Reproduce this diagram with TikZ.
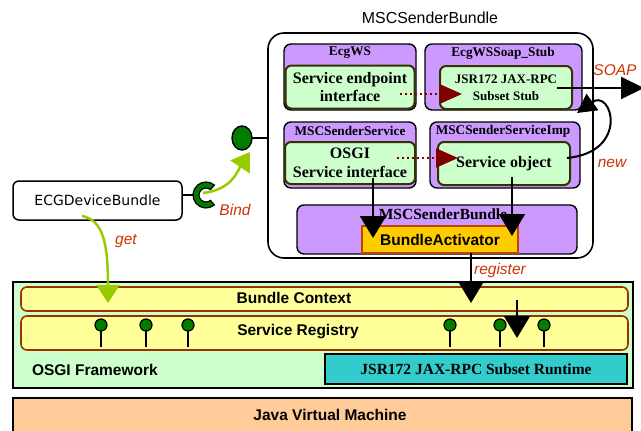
\documentclass[tikz,border=0pt]{standalone}
\usepackage{fontspec}
\setmainfont{Liberation Serif}
\setsansfont{Liberation Sans}
\newfontfamily\ecgfont{DejaVu Sans}
\usetikzlibrary{arrows.meta,calc,shapes.geometric}

\definecolor{compviolet}{RGB}{204,153,255}
\definecolor{palegreen}{RGB}{204,255,204}
\definecolor{ifborder}{RGB}{51,51,0}
\definecolor{barfill}{RGB}{255,255,153}
\definecolor{barborder}{RGB}{153,51,0}
\definecolor{runcyan}{RGB}{51,204,204}
\definecolor{jvmpeach}{RGB}{255,204,153}
\definecolor{ballgreen}{RGB}{0,125,0}
\definecolor{limegreen}{RGB}{153,204,0}
\definecolor{dotred}{RGB}{128,0,0}
\definecolor{labelred}{RGB}{204,51,0}
\definecolor{actfill}{RGB}{255,204,0}
\definecolor{actborder}{RGB}{190,70,0}

\newcommand\titlefont{\fontsize{15.9}{18}\selectfont\sffamily}
\newcommand\complabelfont{\fontsize{13.3}{15}\selectfont\bfseries}
\newcommand\boxtextfont{\fontsize{16}{18.5}\selectfont\bfseries}
\newcommand\stubtextfont{\fontsize{13}{17}\selectfont\bfseries}
\newcommand\sanslabelfont{\fontsize{15.5}{18}\selectfont\sffamily\bfseries}
\newcommand\edgelabelfont{\fontsize{15.5}{18}\selectfont\sffamily\itshape}

\begin{document}
\begin{tikzpicture}[x=1pt,y=-1pt,
  every node/.style={inner sep=0pt, outer sep=0pt},
  layerbox/.style={draw, line width=2, fill=palegreen},
  barbox/.style={draw=barborder, line width=1.6, rounded corners=6, fill=barfill},
  runbox/.style={draw, line width=2, fill=runcyan, font=\sanslabelfont\rmfamily},
  jvmbox/.style={draw, line width=2, fill=jvmpeach},
  outerbox/.style={draw, line width=1.6, rounded corners=16, fill=white},
  compbox/.style={draw, line width=1.4, rounded corners=7, fill=compviolet},
  complabel/.style={font=\complabelfont},
  ifbox/.style={draw=ifborder, line width=2, rounded corners=6, fill=palegreen, align=center},
  actbox/.style={draw=actborder, line width=1.6, fill=actfill, font=\sanslabelfont},
  ecgbox/.style={draw, line width=1.5, rounded corners=6, fill=white, font=\ecgfont\fontsize{14}{16}\selectfont},
  ballbig/.style={ellipse, draw, line width=1.4, fill=ballgreen},
  ballsmall/.style={circle, draw, line width=1.2, fill=ballgreen, minimum size=12},
  stem/.style={line width=1.5},
  edgelabel/.style={font=\edgelabelfont, text=labelred},
  bigarrow/.style={line width=2, -{Triangle[length=22pt,width=26pt]}},
  soaparrow/.style={line width=2, -{Triangle[length=23pt,width=22pt]}},
  dotarrow/.style={draw=dotred, line width=2.2, dash pattern=on 2.2pt off 2.8pt,
                   -{Triangle[length=22pt,width=19pt]}},
  limearrow/.style={draw=limegreen, line width=2.5, -{Triangle[length=18pt,width=23pt]}}
]
\useasboundingbox (0,0) rectangle (641,431);

% ---- OSGi framework layer ----
\node[layerbox, minimum width=620, minimum height=106] (fw) at (323,335) {};
\node[barbox, minimum width=607, minimum height=24] (ctx) at (324.5,299) {};
\node[font=\sanslabelfont] (ctxlbl) at (294,298) {Bundle Context};
\node[barbox, minimum width=607, minimum height=34] (reg) at (324.5,333) {};
\node[font=\sanslabelfont] (reglbl) at (298,332) {Service Registry};
\node[font=\sanslabelfont, anchor=west] (fwlbl) at (32,370) {OSGI Framework};
\node[runbox, minimum width=302, minimum height=30] (rt) at (476,369) {JSR172 JAX-RPC Subset Runtime};

% registered services
\foreach \px [count=\i] in {101,146,188,450,500,544} {
  \coordinate (stem\i) at (\px,347);
  \draw[stem] (stem\i) -- (\px,325);
  \node[ballsmall] (svc\i) at (\px,325) {};
}

% ---- Java VM ----
\node[jvmbox, minimum width=619, minimum height=50] (jvm) at (322.5,423) {};
\node[font=\sanslabelfont] (jvmlbl) at (330,415) {Java Virtual Machine};

% ---- MSCSenderBundle ----
\node[outerbox, minimum width=325, minimum height=225] (bundle) at (430.5,145.5) {};
\node[font=\titlefont] (bundletitle) at (430,18) {MSCSenderBundle};

\node[compbox, minimum width=132, minimum height=66] (ecgws) at (350,77) {};
\node[complabel] (ecgwslbl) at (350,53) {EcgWS};
\node[ifbox, minimum width=129, minimum height=43, font=\boxtextfont] (sei) at (350,87)
  {Service endpoint\\interface};

\node[compbox, minimum width=157, minimum height=66] (stubc) at (503.5,77) {};
\node[complabel] (stubclbl) at (503,53) {EcgWSSoap\_Stub};
\node[ifbox, minimum width=132, minimum height=43, font=\stubtextfont] (stub) at (506,87.5)
  {JSR172 JAX-RPC\\Subset Stub};

\node[compbox, minimum width=132, minimum height=66] (svcc) at (350,155) {};
\node[complabel] (svcclbl) at (350,131) {MSCSenderService};
\node[ifbox, minimum width=130, minimum height=42, font=\boxtextfont] (osgi) at (350,163)
  {OSGI\\Service interface};

\node[compbox, minimum width=150, minimum height=66] (impc) at (505,155) {};
\node[complabel] (impclbl) at (503,131) {MSCSenderServiceImp};
\node[ifbox, minimum width=132, minimum height=43, font=\boxtextfont] (so) at (504,163.5)
  {Service object};

\node[compbox, minimum width=280, minimum height=49] (actc) at (437,229.5) {};
\node[font=\fontsize{15.5}{18}\selectfont\bfseries] (actclbl) at (443,214) {MSCSenderBundle};
\node[actbox, minimum width=156, minimum height=27] (act) at (440,239.5) {BundleActivator};

% ---- ECGDeviceBundle and its binding ----
\node[ecgbox, minimum width=169, minimum height=39] (ecg) at (97.5,200.5) {ECGDeviceBundle};
\node[ballbig, minimum width=20, minimum height=24] (ball) at (242,138) {};
\draw[line width=1.5] (ball.east) -- (ball.east -| bundle.west);

\coordinate (sock) at (206,195);
\draw[line width=1.5] (ecg.east |- sock) -- ($(sock)+(-13,0)$);
\draw[fill=ballgreen, line width=1.2] ($(sock)+(50:13)$) arc[start angle=50, end angle=310, radius=13]
  -- ($(sock)+(310:7)$) arc[start angle=310, end angle=50, radius=7] -- cycle;

% ---- connector end points ----
\coordinate (bindtip) at (250,152);
\coordinate (getstart) at (82,216);
\coordinate (gettip) at (108,303);
\coordinate (seiout) at (400,94);
\coordinate (stubin) at (462,94);
\coordinate (osgiout) at (397,158);
\coordinate (soin) at (458,158);
\coordinate (osgidown) at (373,178);
\coordinate (actin1) at (373,238);
\coordinate (sodown) at (512,177);
\coordinate (actin2) at (512,236);
\coordinate (soapout) at (557,88);
\coordinate (soaptip) at (644,88);
\coordinate (newstart) at (567,158);
\coordinate (newtip) at (577,113);
\coordinate (regtip) at (471,303);
\coordinate (regfrom) at (517,300);
\coordinate (regto) at (517,338);

% ---- connectors ----
\draw[limearrow] ($(sock)+(-3,-2)$) .. controls (232,190) and (238,170) .. (bindtip);
\draw[limearrow] (getstart) .. controls (102,220) and (108,240) .. (gettip);
\draw[dotarrow] (seiout) -- (stubin);
\draw[dotarrow] (osgiout) -- (soin);
\draw[bigarrow] (osgidown) -- (actin1);
\draw[bigarrow] (sodown) -- (actin2);
\draw[soaparrow] (soapout) -- (soaptip);
\draw[line width=2, -{Triangle[length=19pt,width=20pt]}] (newstart)
  .. controls (630,152) and (612,88) .. (newtip);
\draw[bigarrow] (act.south -| regtip) -- (regtip);
\draw[bigarrow] (regfrom) -- (regto);

% ---- connector labels ----
\node[edgelabel] (bindlbl) at (235,210) {Bind};
\node[edgelabel] (getlbl) at (126,241) {get};
\node[edgelabel] (reglabel) at (500,270) {register};
\node[edgelabel] (newlbl) at (612,163) {new};
\node[edgelabel] (soaplbl) at (615,70) {SOAP};
\end{tikzpicture}
\end{document}
